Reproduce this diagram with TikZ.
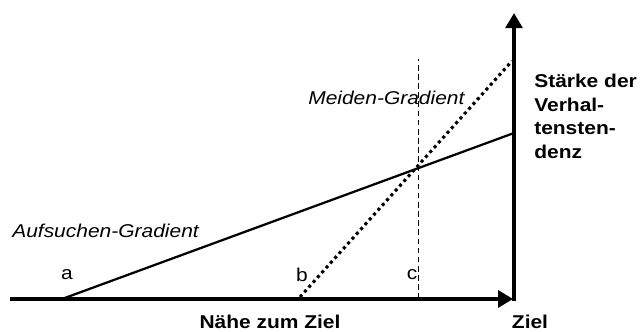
\documentclass[tikz,border=0pt]{standalone}
\usepackage{fontspec}
\setmainfont{Liberation Sans}[FakeStretch=1.13]
\usetikzlibrary{arrows.meta,positioning}

\begin{document}
\begin{tikzpicture}[
  axis/.style={line width=3.3pt, -{Triangle[length=0.38cm, width=0.42cm]}},
  approach/.style={line width=1.6pt},
  avoid/.style={line width=2.2pt, dash pattern=on 2.2pt off 2.4pt},
  marker/.style={line width=0.6pt, dash pattern=on 4pt off 2.5pt},
  lbl/.style={inner sep=0pt, font=\fontsize{13.2}{16.7}\selectfont},
  grad/.style={lbl, font=\fontsize{13.2}{16.7}\selectfont\itshape},
  axlbl/.style={lbl, align=left, font=\fontsize{13.2}{16.7}\selectfont\bfseries}
]
\useasboundingbox (0,0) rectangle (16,8.275);

% axes
\coordinate (xstart) at (0.25,0.8);
\coordinate (xend) at (12.83,0.8);
\coordinate (ybot) at (12.85,0.74);
\coordinate (ytop) at (12.85,7.95);
\draw[axis] (xstart) -- (xend);
\draw[axis] (ybot) -- (ytop);

% gradients
\coordinate (a0) at (1.55,0.8);
\coordinate (a1) at (12.85,4.95);
\coordinate (b0) at (7.5,0.85);
\coordinate (b1) at (12.8,6.75);
\coordinate (c0) at (10.45,0.8);
\coordinate (c1) at (10.45,6.8);
\draw[approach] (a0) -- (a1);
\draw[avoid] (b0) -- (b1);
\draw[marker] (c0) -- (c1);

% labels
\node[lbl] (la) at (1.675,1.4) {a};
\node[lbl] (lb) at (7.55,1.4) {b};
\node[lbl] (lc) at (10.3,1.4) {c};
\node[grad, anchor=west] (aufs) at (0.3,2.5) {Aufsuchen-Gradient};
\node[grad, anchor=west] (meid) at (7.7,5.825) {Meiden-Gradient};
\node[axlbl, anchor=north west] (staerke) at (13.35,6.42)
  {Stärke der\\Verhal-\\tensten-\\denz};
\node[axlbl, anchor=base] (naehe) at (6.75,0.07) {Nähe zum Ziel};
\node[axlbl, anchor=base] (ziel) at (13.25,0.07) {Ziel};

\end{tikzpicture}
\end{document}
